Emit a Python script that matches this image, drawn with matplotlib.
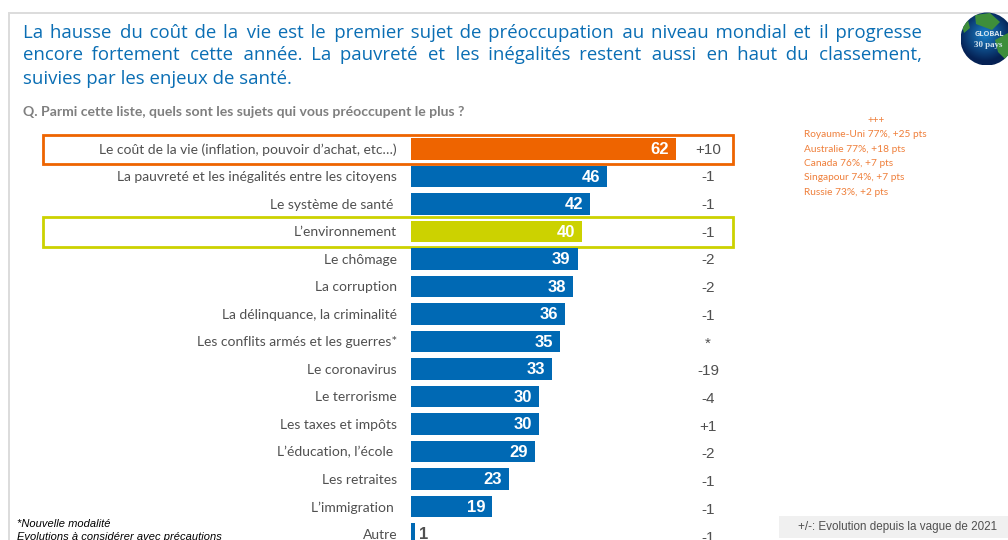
import matplotlib
matplotlib.use("Agg")
import matplotlib.pyplot as plt
import numpy as np
from matplotlib.patches import Rectangle, Circle, Polygon

categories = ["Le coût de la vie (inflation, pouvoir d’achat, etc…)",
              "La pauvreté et les inégalités entre les citoyens",
              "Le système de santé ", "L’environnement", "Le chômage",
              "La corruption", "La délinquance, la criminalité",
              "Les conflits armés et les guerres*", "Le coronavirus",
              "Le terrorisme", "Les taxes et impôts", "L’éducation, l’école ",
              "Les retraites", "L’immigration ", "Autre"]
values = [62, 46, 42, 40, 39, 38, 36, 35, 33, 30, 30, 29, 23, 19, 1]
changes = ["+10", "-1", "-1", "-1", "-2", "-2", "-1", "*", "-19", "-4", "+1", "-2", "-1", "-1", "-1"]
top_countries = ["Royaume-Uni 77%, +25 pts", "Australie 77%, +18 pts", "Canada 76%, +7 pts",
                 "Singapour 74%, +7 pts", "Russie 73%, +2 pts"]
title_lines = ["La hausse du coût de la vie est le premier sujet de préoccupation au niveau mondial et il progresse",
               "encore fortement cette année. La pauvreté et les inégalités restent aussi en haut du classement,",
               "suivies par les enjeux de santé."]
question = "Q. Parmi cette liste, quels sont les sujets qui vous préoccupent le plus ?"

BLUE, ORANGE, LIME = "#0069B4", "#EE6400", "#CCD200"
GREY = "#505050"
SIDE = "#EF7F3A"
W, H = 1008, 540
fig = plt.figure(figsize=(W / 100, H / 100), dpi=100, facecolor="white")

# pixel overlay for page furniture
ov = fig.add_axes([0, 0, 1, 1])
ov.set_xlim(0, W); ov.set_ylim(H, 0); ov.axis("off")
r = fig.canvas.get_renderer()

# page frame
ov.plot([9, 9, W], [H, 12.5, 12.5], color="#DCDCDC", lw=1.4, solid_joinstyle="miter")

# justified title: widen the word gaps with hair spaces, evenly over the line
HAIR = "\u200a"
def justified(line, x0, x1, y, size, justify=True):
    words = line.split(" ")
    t = ov.text(x0, y, line, fontsize=size, family="Open Sans", color="#0A6EB4", va="center")
    if justify:
        w = t.get_window_extent(r).width
        t.set_text("a" + HAIR * 20 + "a"); wa = t.get_window_extent(r).width
        t.set_text("aa"); sp = (wa - t.get_window_extent(r).width) / 20
        gaps = len(words) - 1
        n = max(int(round((x1 - x0 - w) / sp)), 0)
        s = words[0]
        for i, word in enumerate(words[1:], 1):
            k = round(n * i / gaps) - round(n * (i - 1) / gaps)
            s += " " + HAIR * k + word
        t.set_text(s)
    return t

justified(title_lines[0], 23, 922, 32.5, 13.4)
justified(title_lines[1], 23, 922, 55.5, 13.4)
justified(title_lines[2], 23, 922, 78.5, 13.4, justify=False)

ov.text(23, 112.5, question, fontsize=10.1, family="Lato", weight="bold", color="#7F7F7F", va="center")

# highlight frames
ov.add_patch(Rectangle((43, 134.5), 690, 29.5, fill=False, ec=ORANGE, lw=2))
ov.add_patch(Rectangle((43, 217), 690, 29.5, fill=False, ec=LIME, lw=2))

# orange side list
ov.text(876, 120, "+++", fontsize=7, family="Lato", color=SIDE, ha="center", va="center")
for i, s in enumerate(top_countries):
    ov.text(804, 134.5 + i * 14.5, s, fontsize=7.3, family="Lato", color=SIDE, va="center")

# evolution column
for i, s in enumerate(changes):
    ov.text(708, 149.5 + i * 27.72, s, fontsize=11, family="Liberation Sans", color=GREY, ha="center", va="center")

# footer
ov.add_patch(Rectangle((779, 516), 229, 22, fc="#F0F0F0", ec="none"))
ov.text(798, 527, "+/-: Evolution depuis la vague de 2021", fontsize=8.33, family="Liberation Sans", color=GREY, va="center")
ov.text(17, 524, "*Nouvelle modalité", fontsize=8, family="Liberation Sans", style="italic", color="black", va="center")
ov.text(17, 537.5, "Evolutions à considérer avec précautions", fontsize=8, family="Liberation Sans", style="italic", color="black", va="center")

# globe
cx, cy, rad = 987, 39, 26.5
yy, xx = np.mgrid[-1:1:120j, -1:1:120j]
shade = np.clip(1 - np.hypot(xx + 0.1, yy + 0.15), 0, 1)
base = np.array([0.02, 0.13, 0.33])
top = np.array([0.10, 0.50, 0.78])
img = base + (top - base)[None, None, :] * shade[..., None]
im = ov.imshow(img, extent=(cx - rad, cx + rad, cy + rad, cy - rad), zorder=3, aspect="auto")
clip = Circle((cx, cy), rad, transform=ov.transData)
im.set_clip_path(clip)
ov.set_xlim(0, W); ov.set_ylim(H, 0)
for pts in ([(975, 15), (990, 13), (1000, 22), (992, 30), (984, 27), (976, 24)],
            [(995, 40), (1008, 33), (1013, 45), (1006, 60), (998, 52)],
            [(962, 26), (968, 20), (970, 28), (964, 33)]):
    p = Polygon(pts, fc="#3E8E3A", ec="none", zorder=4)
    ov.add_patch(p); p.set_clip_path(clip)
ov.text(989, 34.5, "GLOBAL", fontsize=5.4, family="Open Sans", weight="bold", color="#D6E4EE", ha="center", va="center", zorder=5)
ov.text(988, 45, "30 pays", fontsize=6.4, family="Liberation Serif", weight="bold", color="#D6E4EE", ha="center", va="center", zorder=5)

# bars
px_unit = 4.27
row = 27.5
ax_left, ax_top = 411, 149 - row / 2
xmax = 100
row_bottom = (H - 149) / row
ax = fig.add_axes([ax_left / W, 0, xmax * px_unit / W, (H - ax_top) / H], facecolor="none")
ax.set_xlim(0, xmax); ax.set_ylim(row_bottom, -0.5); ax.axis("off")
colors = [BLUE] * len(values)
colors[0] = ORANGE; colors[3] = LIME
ypos = np.arange(len(values))
ax.barh(ypos, values, height=0.79, color=colors, edgecolor="none")
for y, v, c in zip(ypos, values, categories):
    if v < 5:
        ax.annotate(str(v), (v, y), xytext=(3, -0.6), textcoords="offset points", fontsize=12,
                    family="Liberation Sans", weight="bold", color=GREY, ha="left", va="center", annotation_clip=False)
    else:
        ax.annotate(str(v), (v, y), xytext=(-5, -0.6), textcoords="offset points", fontsize=12,
                    family="Liberation Sans", weight="bold", color="white", ha="right", va="center")
    ax.annotate(c, (0, y), xytext=(-10, -0.6), textcoords="offset points", fontsize=10,
                family="Lato", color=GREY, ha="right", va="center", annotation_clip=False)

fig.savefig("out.png", dpi=100)
